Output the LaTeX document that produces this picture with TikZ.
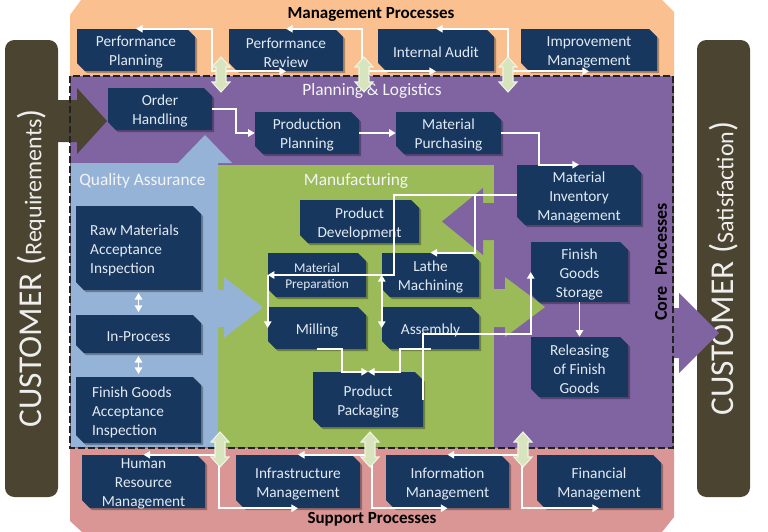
\documentclass[tikz,border=0pt]{standalone}
\usepackage{fontspec}
\setmainfont{Carlito}
\usetikzlibrary{arrows.meta}
\definecolor{cOrange}{HTML}{FAC08F}
\definecolor{cPurple}{HTML}{8064A2}
\definecolor{cBlue}{HTML}{95B3D7}
\definecolor{cGreen}{HTML}{9BBB59}
\definecolor{cPink}{HTML}{D99694}
\definecolor{cNavy}{HTML}{17375E}
\definecolor{cBoxTxt}{HTML}{E2EAF3}
\definecolor{cCust}{HTML}{4A4430}
\definecolor{cCustTxt}{HTML}{EEEEEE}
\definecolor{cGArrow}{HTML}{D7E4BD}
\definecolor{cGArrowEdge}{HTML}{EEF5E3}
\definecolor{cLabel}{HTML}{F4F4F4}
\definecolor{cDash}{HTML}{222222}
\tikzset{
  boxfill/.style={fill=cNavy},
  boxshadow/.style={fill=black, opacity=0.3},
  boxshape/.style={inner sep=0pt},
  boxtext/.style={text=cBoxTxt, align=center, inner sep=0pt, font=\fontsize{11.5}{14.25}\selectfont},
  smalltext/.style={font=\fontsize{10}{12}\selectfont},
  conn/.style={draw=white, line width=1.4pt},
  garr/.style={fill=cGArrow, draw=cGArrowEdge, line width=0.8pt},
  grplabel/.style={text=cLabel, font=\fontsize{13}{15}\selectfont, inner sep=0pt},
  ttl/.style={text=black, font=\fontsize{12.75}{15}\selectfont\bfseries, inner sep=0pt},
  cust/.style={fill=cCust, rounded corners=7pt, rotate=90, text=cCustTxt, minimum width=342.75pt, minimum height=39.75pt, inner sep=0pt},
  dashborder/.style={draw=cDash, line width=1.5pt, dash pattern=on 5pt off 2.5pt},
}
% #1 text options, #2 name, #3 x1, #4 y1, #5 x2, #6 y2, #7 text
\newcommand\cbox[7][]{%
  \fill[boxshadow] (#3+2,#4+2) -- (#5-8+2,#4+2) -- (#5+2,#4+8+2) -- (#5+2,#6+2) -- (#3+8+2,#6+2) -- (#3+2,#6-8+2) -- cycle;
  \fill[boxfill] (#3,#4) -- (#5-8,#4) -- (#5,#4+8) -- (#5,#6) -- (#3+8,#6) -- (#3,#6-8) -- cycle;
  \pgfmathsetmacro\bw{(#5-#3)*0.75}%
  \pgfmathsetmacro\bh{(#6-#4)*0.75}%
  \node[boxshape,minimum width=\bw pt,minimum height=\bh pt] (#2) at ({(#3+#5)/2},{(#4+#6)/2}) {};
  \node[boxtext,#1] (#2-txt) at ([yshift=-1.8pt]#2.center) {#7};
}
\newcommand\garrow[3]{%
  \filldraw[garr] (#1,#2) -- (#1+9,#2+10) -- (#1+5,#2+10) -- (#1+5,#3-10) -- (#1+9,#3-10) -- (#1,#3) -- (#1-9,#3-10) -- (#1-5,#3-10) -- (#1-5,#2+10) -- (#1-9,#2+10) -- cycle;}
\begin{document}
\begin{tikzpicture}[x=0.75pt,y=-0.75pt,>={Triangle[length=5pt,width=5.5pt]}]
\useasboundingbox (0,0) rectangle (768,532);
% backgrounds
\fill[cOrange] (70,15) -- (81,0) -- (662,0) -- (674,12) -- (674,448) -- (70,448) -- cycle;
\fill[cPink] (70,448) -- (674,448) -- (674,517) -- (662,532) -- (82,532) -- (70,521) -- cycle;
\fill[cPurple] (70,76) rectangle (674,448);
\fill[cGreen] (218,165) rectangle (494,447);
\fill[cBlue] (71,163) -- (178,163) -- (205,135) -- (232,163) -- (218,163) -- (218,290) -- (224,290) -- (224,277) -- (263,307.5) -- (224,338) -- (224,327) -- (218,327) -- (218,447) -- (71,447) -- cycle;
\fill[cPurple] (530,203) -- (483,203) -- (483,188) -- (442,221.5) -- (483,255) -- (483,240) -- (530,240) -- cycle;
\fill[cGreen] (490,289) -- (505,289) -- (505,277) -- (545,307) -- (505,337) -- (505,327) -- (490,327) -- cycle;
% customer boxes
\node[cust] (custL) at (31.5,268.5) {\fontsize{25}{27}\selectfont CUSTOMER (\fontsize{18}{20}\selectfont Requirements\fontsize{25}{27}\selectfont)};
\node[cust] (custR) at (723.5,268.5) {\fontsize{25}{27}\selectfont CUSTOMER (\fontsize{18}{20}\selectfont Satisfaction\fontsize{25}{27}\selectfont)};
\fill[cCust] (56,100) -- (77,100) -- (77,88) -- (107,121) -- (77,154) -- (77,142) -- (56,142) -- cycle;
\fill[cPurple] (672,308) -- (679,308) -- (679,293) -- (719,333) -- (679,373) -- (679,358) -- (672,358) -- cycle;
\draw[dashborder] (70,76) rectangle (673,448);
% labels
\node[ttl] (tmg) at (371,14) {Management Processes};
\node[ttl] (tsp) at (372,519) {Support Processes};
\node[grplabel] (tpl) at (372,91) {Planning \& Logistics};
\node[grplabel,anchor=west] (tqa) at (79,181) {Quality Assurance};
\node[grplabel] (tmf) at (356,181) {Manufacturing};
\node[ttl,rotate=90,font=\fontsize{13.5}{15}\selectfont\bfseries] (tcp) at (661,262) {Core\hspace{0.6em}Processes};
% management
\cbox{pp}{77}{29}{195}{71}{Performance\\Planning}
\cbox{pr}{229}{29}{343}{71}{Performance\\Review}
\cbox{ia}{378}{29}{494}{71}{Internal Audit}
\cbox{im}{521}{29}{657}{71}{Improvement\\Management}
% support
\cbox{hr}{82}{455}{205}{508}{Human\\Resource\\Management}
\cbox{inf}{236}{455}{360}{508}{Infrastructure\\Management}
\cbox{inm}{386}{455}{509}{508}{Information\\Management}
\cbox{fin}{537}{455}{661}{508}{Financial\\Management}
% planning & logistics
\cbox{oh}{108}{88}{212}{130}{Order\\Handling}
\cbox{prp}{255}{112}{359}{154}{Production\\Planning}
\cbox{mpu}{396}{112}{501}{154}{Material\\Purchasing}
\cbox{mim}{517}{165}{641}{225}{Material\\Inventory\\Management}
\cbox{fgs}{531}{242}{628}{302}{Finish\\Goods\\Storage}
\cbox{rel}{531}{337}{628}{397}{Releasing\\of Finish\\Goods}
% quality assurance
\cbox[align=left,xshift=-3pt]{raw}{76}{206}{201}{290}{Raw Materials\\Acceptance\\Inspection}
\cbox{inp}{76}{315}{201}{353}{In-Process}
\cbox[align=left,xshift=-5pt]{fga}{76}{377}{201}{443}{Finish Goods\\Acceptance\\Inspection}
% manufacturing
\cbox{pd}{300}{200}{419}{243}{Product\\Development}
\cbox[smalltext]{mpr}{268}{253}{366}{297}{Material\\Preparation}
\cbox{lm}{382}{253}{479}{297}{Lathe\\Machining}
\cbox{mil}{268}{307}{366}{349}{Milling}
\cbox{asm}{382}{307}{479}{349}{Assembly}
\cbox{pkg}{313}{372}{423}{427}{Product\\Packaging}
% helper coordinates
\coordinate (g1) at (212,50);
\coordinate (g2) at (362,50);
\coordinate (g3) at (508,50);
\coordinate (s1) at (219,480);
\coordinate (s2) at (372,480);
\coordinate (s3) at (522,480);
\coordinate (c1) at (236,120);
\coordinate (c2) at (539,150);
\coordinate (c3) at (394,240);
\coordinate (c4) at (475,230);
\coordinate (c5) at (342,360);
\coordinate (c6) at (400,360);
\coordinate (c7) at (470,334);
% connectors
\draw[conn,<->] (pp.north) -| (g1) |- (pr.south);
\draw[conn,<->] (pr.north) -| (g2) |- (ia.south);
\draw[conn,<->] (ia.north) -| (g3) |- (im.south);
\draw[conn,<->] (hr.north) -| (s1) |- (inf.south);
\draw[conn,<->] (inf.north) -| (s2) |- (inm.south);
\draw[conn,<->] (inm.north) -| (s3) |- (fin.south);
\draw[conn,->] (oh.east) -| (c1) |- (prp.west);
\draw[conn,->] (prp.east) -- (mpu.west);
\draw[conn,->] (mpu.east) -| (c2) |- (mim.north);
\draw[conn,->] (mim.west) -| (c3) |- (mpr.west);
\draw[conn,->] (mim.west) -| (c4) |- (lm.north);
\draw[conn,->] (mpr.west) -- (mil.west);
\draw[conn,<->] (lm.west) -- (asm.west);
\draw[conn,->] (mil.south) -| (c5) |- (pkg.north);
\draw[conn,->] (asm.south) -| (c6) |- (pkg.north);
\draw[conn,->] (pkg.east) |- (c7) -| (fgs.west);
\draw[conn,->] (fgs.south) -- (rel.north);
\draw[conn,<->,shorten <=2pt,shorten >=2pt] (raw.south) -- (inp.north);
\draw[conn,<->,shorten <=2pt,shorten >=2pt] (inp.south) -- (fga.north);
% green double arrows
\garrow{221}{57}{92}
\garrow{364}{57}{92}
\garrow{508}{57}{92}
\garrow{220}{432}{467}
\garrow{370}{432}{467}
\garrow{523}{432}{467}
\end{tikzpicture}
\end{document}
